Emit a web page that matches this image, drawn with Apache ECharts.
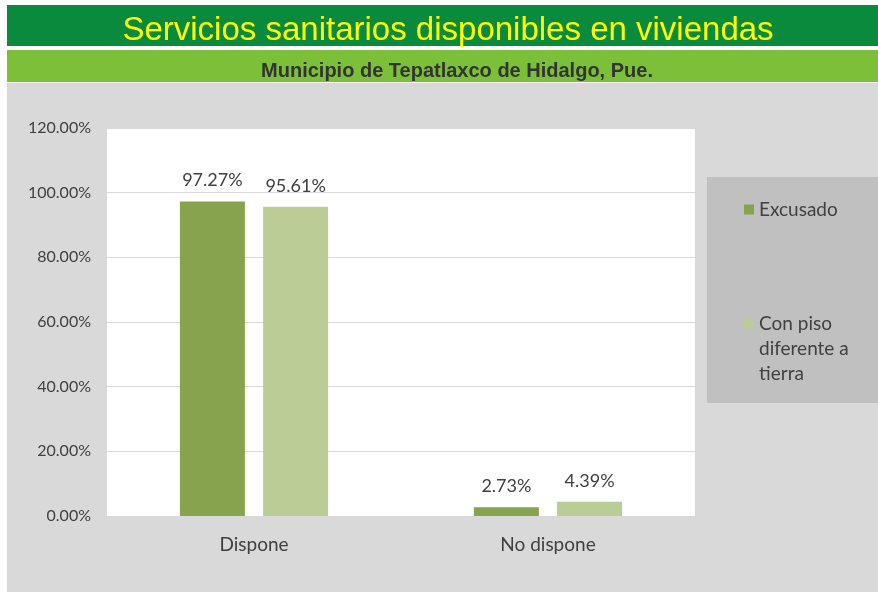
<!DOCTYPE html>
<html>
<head>
<meta charset="utf-8">
<script src="https://cdn.jsdelivr.net/npm/echarts@6/dist/echarts.min.js"></script>
<style>
  html, body { margin: 0; padding: 0; background: #fff; }
  #chart { width: 878px; height: 592px; }
</style>
</head>
<body>
<div id="chart"></div>
<script>
// datos del gráfico
const categories = ["Dispone", "No dispone"];
const seriesNames = ["Excusado", "Con piso diferente a tierra"];
const excusado = [97.27, 2.73];
const conPiso = [95.61, 4.39];
const yTicks = [0, 20, 40, 60, 80, 100, 120];

const chart = echarts.init(document.getElementById("chart"), null, { renderer: "canvas" });

const labelStyle = {
  show: true,
  position: "top",
  distance: 12,
  fontFamily: "Lato",
  fontSize: 18,
  color: "#404040",
  formatter: (p) => p.value.toFixed(2) + "%",
};

const option = {
  backgroundColor: "#fff",
  animation: false,
  graphic: [
    // barra del título
    { type: "rect", z: -10, shape: { x: 7, y: 5, width: 871, height: 41 }, style: { fill: "#0a8a3c" } },
    // barra del subtítulo
    { type: "rect", z: -10, shape: { x: 7, y: 50, width: 871, height: 32 }, style: { fill: "#7cc03a" } },
    // fondo gris
    { type: "rect", z: -10, shape: { x: 7, y: 83, width: 871, height: 509 }, style: { fill: "#d9d9d9" } },
    // área de trazado blanca
    { type: "rect", z: -9, shape: { x: 107, y: 128, width: 588, height: 388 }, style: { fill: "#ffffff" } },
    // caja de la leyenda
    { type: "rect", z: -9, shape: { x: 707, y: 177, width: 171, height: 226 }, style: { fill: "#c0c0c0" } },
  ],
  title: [
    {
      text: "Servicios sanitarios disponibles en viviendas",
      left: 443,
      textAlign: "center",
      top: 9,
      textStyle: { fontFamily: "Liberation Sans", fontSize: 33, fontWeight: "normal", color: "#ffff00" },
    },
    {
      text: "Municipio de Tepatlaxco de Hidalgo, Pue.",
      left: 452,
      textAlign: "center",
      top: 56,
      textStyle: { fontFamily: "Liberation Sans", fontSize: 20, fontWeight: "bold", color: "#333" },
    },
  ],
  legend: {
    orient: "vertical",
    left: 739,
    top: 192,
    itemWidth: 10,
    itemHeight: 10,
    itemGap: 39,
    icon: "rect",
    textStyle: { fontFamily: "Lato", fontSize: 19, color: "#404040", lineHeight: 25 },
    formatter: (name) => (name === seriesNames[1] ? "\n\nCon piso\ndiferente a\ntierra" : name),
    data: seriesNames,
  },
  grid: {
    left: 107,
    right: 183,
    top: 128,
    bottom: 76,
    containLabel: false,
  },
  xAxis: {
    type: "category",
    data: categories,
    axisLine: { lineStyle: { color: "#d9d9d9" } },
    axisTick: { show: false },
    axisLabel: { fontFamily: "Lato", fontSize: 19, color: "#404040", margin: 19 },
  },
  yAxis: {
    type: "value",
    min: yTicks[0],
    max: yTicks[yTicks.length - 1],
    interval: 20,
    axisLine: { show: false },
    axisTick: { show: false },
    splitLine: { lineStyle: { color: "#d9d9d9", width: 1 } },
    axisLabel: {
      fontFamily: "Lato",
      fontSize: 16,
      color: "#404040",
      margin: 16,
      formatter: (v) => v.toFixed(2) + "%",
    },
  },
  series: [
    {
      name: seriesNames[0],
      type: "bar",
      data: excusado,
      barWidth: 65,
      barGap: "28%",
      itemStyle: { color: "#87a34e" },
      label: labelStyle,
    },
    {
      name: seriesNames[1],
      type: "bar",
      data: conPiso,
      barWidth: 65,
      barGap: "28%",
      itemStyle: { color: "#bacd96" },
      label: labelStyle,
    },
  ],
};

option && chart.setOption(option);
</script>
</body>
</html>
